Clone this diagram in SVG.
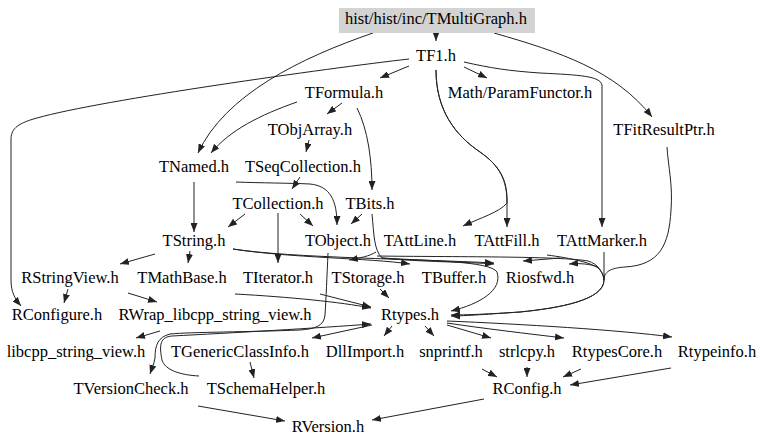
<svg xmlns="http://www.w3.org/2000/svg" width="768" height="447" viewBox="0 0 768 447">
<style>
text{font-family:"Liberation Serif","Times New Roman",serif;font-size:16.5px;fill:#000;text-anchor:middle}
.e path{fill:none;stroke:#222;stroke-width:1;marker-end:url(#a)}
.e path.n{marker-end:none}
</style>
<defs>
<marker id="a" markerWidth="9" markerHeight="7" refX="9" refY="3.5" orient="auto" markerUnits="userSpaceOnUse"><path d="M0,0L9,3.5L0,7z" fill="#222"/></marker>
</defs>
<rect width="768" height="447" fill="#fff"/>
<g class="e">
<path d="M436,33L436,41"/>
<path d="M373,33C300,58 225,95 198,153"/>
<path d="M494,33C560,52 615,70 652,117"/>
<path d="M409,59C330,68 100,100 37,118C15,124 11,130 11,140L11,280C11,292 15,299 21,306"/>
<path d="M409,66L380,78"/>
<path d="M464,67L487,78"/>
<path d="M436,70C436,110 455,135 480,152C500,166 507,180 507,200L507,227"/>
<path d="M436,70C436,110 455,135 480,152C500,166 507,180 507,203C500,212 480,218 463,226"/>
<path d="M464,62C490,68 510,71 540,73C580,75 600,76 602,85L602,227"/>
<path d="M667,147C668,165 673,185 671,210C669,245 660,265 625,267C610,268 604,272 604,280C604,300 560,308 520,312C490,314 465,315 451,315"/>
<path d="M604,252L604,280C604,300 560,308 520,312C490,314 465,316 451,316"/>
<path class="n" d="M547,255C570,258 595,263 600,270C603,274 604,277 604,280"/>
<path d="M598,267C590,264 580,263 569,264"/>
<path class="n" d="M377,256C450,257 560,256 588,261C598,264 603,272 604,280"/>
<path d="M560,258L523,261"/>
<path d="M372,214C374,235 374,250 382,258C420,262 470,262 494,264"/>
<path d="M233,249C290,258 370,258 410,264"/>
<path d="M233,249C290,258 420,259 494,263"/>
<path d="M382,258C430,261 490,261 497,272C503,290 480,304 451,311"/>
<path d="M376,252C370,256 360,258 349,260"/>
<path d="M297,102C260,115 230,130 211,153"/>
<path d="M342,103L327,114"/>
<path d="M357,108C368,130 372,160 372,190"/>
<path d="M309,140L306,152"/>
<path d="M300,177L292,189"/>
<path d="M236,182C260,183 290,183 310,184C330,186 337,200 337,225"/>
<path d="M194,182L194,232"/>
<path d="M245,214L228,227"/>
<path d="M300,214L313,226"/>
<path d="M278,213L278,263"/>
<path d="M362,214L351,224"/>
<path d="M155,254L120,264"/>
<path d="M190,251L188,263"/>
<path d="M328,253C327,275 326,300 325,315C324,326 315,329 300,330C250,332 190,332 170,334C158,337 155,345 155,358C154,364 152,368 150,374"/>
<path d="M199,376C180,375 165,370 162,360C159,345 160,337 172,336C230,333 320,328 371,324"/>
<path d="M372,325L312,338"/>
<path d="M250,362L254,378"/>
<path d="M198,406L285,421"/>
<path d="M484,399L372,420"/>
<path d="M482,369L497,377"/>
<path d="M527,367L527,377"/>
<path d="M581,369L563,377"/>
<path d="M671,368L570,385"/>
<path d="M392,326L384,336"/>
<path d="M425,326L434,336"/>
<path d="M447,325L491,338"/>
<path d="M447,323C480,328 530,334 564,338"/>
<path d="M447,321C520,324 620,330 672,337"/>
<path d="M235,294C290,297 340,302 371,308"/>
<path d="M320,294L371,307"/>
<path d="M380,289L389,298"/>
<path d="M68,289L64,303"/>
<path d="M128,293L157,302"/>
<path d="M160,331L136,338"/>
</g>
<g id="n0"><rect x="339" y="8" width="196" height="25" fill="#d3d3d3"/><text x="436" y="24">hist/hist/inc/TMultiGraph.h</text></g>
<g id="n1"><text x="436" y="61">TF1.h</text></g>
<g id="n2"><text x="344" y="98">TFormula.h</text></g>
<g id="n3"><text x="520" y="98">Math/ParamFunctor.h</text></g>
<g id="n4"><text x="664" y="135">TFitResultPtr.h</text></g>
<g id="n5"><text x="310" y="135">TObjArray.h</text></g>
<g id="n6"><text x="194" y="172">TNamed.h</text></g>
<g id="n7"><text x="303" y="172">TSeqCollection.h</text></g>
<g id="n8"><text x="278" y="209">TCollection.h</text></g>
<g id="n9"><text x="370" y="209">TBits.h</text></g>
<g id="n10"><text x="194" y="246">TString.h</text></g>
<g id="n11"><text x="338" y="246">TObject.h</text></g>
<g id="n12"><text x="420" y="246">TAttLine.h</text></g>
<g id="n13"><text x="507" y="246">TAttFill.h</text></g>
<g id="n14"><text x="602" y="246">TAttMarker.h</text></g>
<g id="n15"><text x="70" y="283">RStringView.h</text></g>
<g id="n16"><text x="182" y="283">TMathBase.h</text></g>
<g id="n17"><text x="278" y="283">TIterator.h</text></g>
<g id="n18"><text x="368" y="283">TStorage.h</text></g>
<g id="n19"><text x="454" y="283">TBuffer.h</text></g>
<g id="n20"><text x="540" y="283">Riosfwd.h</text></g>
<g id="n21"><text x="57" y="320">RConfigure.h</text></g>
<g id="n22"><text x="215" y="320">RWrap_libcpp_string_view.h</text></g>
<g id="n23"><text x="410" y="320">Rtypes.h</text></g>
<g id="n24"><text x="76" y="357">libcpp_string_view.h</text></g>
<g id="n25"><text x="240" y="357">TGenericClassInfo.h</text></g>
<g id="n26"><text x="365" y="357">DllImport.h</text></g>
<g id="n27"><text x="451" y="357">snprintf.h</text></g>
<g id="n28"><text x="527" y="357">strlcpy.h</text></g>
<g id="n29"><text x="617" y="357">RtypesCore.h</text></g>
<g id="n30"><text x="717" y="357">Rtypeinfo.h</text></g>
<g id="n31"><text x="131" y="394">TVersionCheck.h</text></g>
<g id="n32"><text x="266" y="394">TSchemaHelper.h</text></g>
<g id="n33"><text x="527" y="394">RConfig.h</text></g>
<g id="n34"><text x="328" y="432">RVersion.h</text></g>
</svg>
